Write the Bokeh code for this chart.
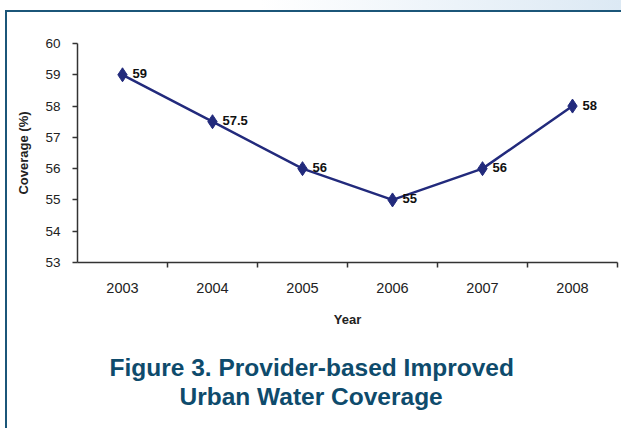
from bokeh.plotting import figure
from bokeh.models import Range1d, FixedTicker, LabelSet, ColumnDataSource, Title
from bokeh.core.properties import value
from bokeh.embed import file_html
from bokeh.resources import INLINE

# ---- data ----
years = [2003, 2004, 2005, 2006, 2007, 2008]
year_labels = ["2003", "2004", "2005", "2006", "2007", "2008"]
coverage = [59, 57.5, 56, 55, 56, 58]
point_labels = ["59", "57.5", "56", "55", "56", "58"]
y_ticks = [53, 54, 55, 56, 57, 58, 59, 60]
title_lines = ["Figure 3. Provider-based Improved", "Urban Water Coverage"]
x_title = "Year"
y_title = "Coverage (%)"

FONT = "Liberation Sans"
NAVY = "#222a7c"
TEAL = "#0e4b6c"
AXIS = "#333333"

src = ColumnDataSource(dict(x=years, y=coverage, t=point_labels))

p = figure(width=621, height=428, output_backend="svg", toolbar_location=None, title=None,
           x_range=Range1d(2002.5, 2008.5), y_range=Range1d(53, 60),
           min_border_left=77, min_border_right=4, min_border_top=43, min_border_bottom=166)
p.grid.visible = False
p.outline_line_color = None
p.background_fill_color = "white"
p.border_fill_alpha = 0

# page decoration behind the (transparent) canvas border area
p.styles = {
    "background": (
        "linear-gradient(#1b5679, #1b5679) 5px 10px / 616px 2px no-repeat, "
        "linear-gradient(#1b5679, #1b5679) 5px 10px / 2px 418px no-repeat, "
        "linear-gradient(#ffffff, #ffffff) 7px 12px / 614px 416px no-repeat, "
        "linear-gradient(to right, #ffffff 0%, #ffffff 42%, #dce9f4 100%) 0 0 / 621px 428px no-repeat"
    )
}

# x axis
xa = p.xaxis[0]
xa.ticker = FixedTicker(ticks=years, minor_ticks=[y + 0.5 for y in years])
xa.major_label_overrides = {y: l for y, l in zip(years, year_labels)}
xa.major_tick_line_color = None
xa.major_tick_out = 0
xa.major_tick_in = 0
xa.minor_tick_line_color = AXIS
xa.minor_tick_out = 5
xa.minor_tick_in = 0
xa.minor_tick_line_width = 1.5
xa.axis_line_color = AXIS
xa.axis_line_width = 1.5
xa.major_label_text_font = FONT
xa.major_label_text_font_size = "14.5px"
xa.major_label_text_color = "#222222"
xa.major_label_standoff = 15
xa.axis_label = x_title
xa.axis_label_text_font = FONT
xa.axis_label_text_font_style = "bold"
xa.axis_label_text_font_size = "13px"
xa.axis_label_text_color = "#222222"
xa.axis_label_standoff = 16

# y axis
ya = p.yaxis[0]
ya.ticker = FixedTicker(ticks=y_ticks)
ya.minor_tick_line_color = None
ya.major_tick_out = 5
ya.major_tick_in = 0
ya.major_tick_line_color = AXIS
ya.major_tick_line_width = 1.5
ya.axis_line_color = AXIS
ya.axis_line_width = 1.5
ya.major_label_text_font = FONT
ya.major_label_text_font_size = "13.5px"
ya.major_label_text_color = "#222222"
ya.major_label_standoff = 12
ya.axis_label = y_title
ya.axis_label_text_font = FONT
ya.axis_label_text_font_style = "bold"
ya.axis_label_text_font_size = "13px"
ya.axis_label_text_color = "#222222"
ya.axis_label_standoff = 11

# series
p.line(x="x", y="y", source=src, line_color=NAVY, line_width=2.5)
p.scatter(x="x", y="y", source=src, marker="diamond", size=14,
          fill_color=NAVY, line_color=NAVY)
p.add_layout(LabelSet(x="x", y="y", text="t", source=src, x_offset=10, y_offset=1,
                      text_baseline="middle", text_align="left",
                      text_font=value(FONT), text_font_style="bold", text_font_size="13px",
                      text_color="#111111"))

# spacer between axis and caption
p.add_layout(Title(text=" ", text_font_size="1px", standoff=19), "below")

# caption below the chart (left-aligned with offsets so it is centred on the page)
caption_offsets = [32, 102]
for line, off in zip(title_lines, caption_offsets):
    p.add_layout(Title(text=line, align="left", offset=off, standoff=0,
                       text_font=FONT, text_font_style="bold", text_font_size="24.5px",
                       text_color=TEAL), "below")

open("out.html", "w").write(file_html(p, INLINE))
